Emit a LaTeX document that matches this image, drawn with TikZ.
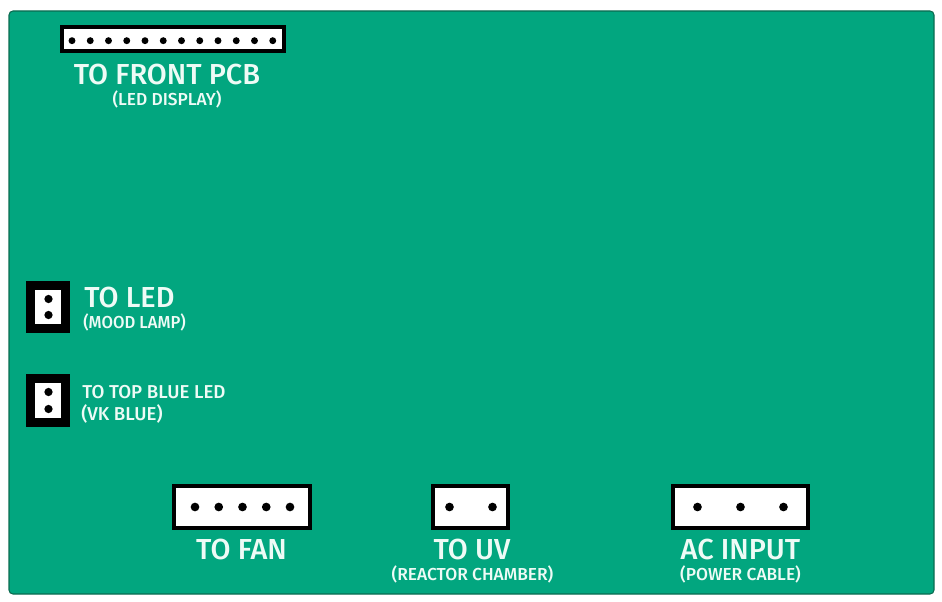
\documentclass[tikz,border=0pt]{standalone}
\usepackage{fontspec}
\setmainfont{Fira Sans Medium}
\definecolor{boardgreen}{HTML}{02A67F}
\definecolor{boardedge}{HTML}{0B6B50}
\definecolor{labelwhite}{HTML}{EEFBF6}
\tikzset{
  conn/.style={draw=black,fill=white,rectangle,line width=3pt,inner sep=0pt},
  jumper/.style={draw=black,fill=white,rectangle,line width=6.8pt,inner sep=0pt},
  pinhole/.style={fill=black,circle,inner sep=0pt,minimum size=6.5pt},
  biglabel/.style={text=labelwhite,inner sep=0pt,font=\fontsize{21.7}{25}\selectfont},
  midlabel/.style={text=labelwhite,inner sep=0pt,font=\fontsize{14}{16}\selectfont},
  smalllabel/.style={text=labelwhite,inner sep=0pt,font=\fontsize{13}{15}\selectfont},
}
\begin{document}
\begin{tikzpicture}[x=.75pt,y=-.75pt]
  \useasboundingbox (0,0) rectangle (942,602);
  \draw[draw=boardedge,fill=boardgreen,line width=.8pt,rounded corners=3pt] (9,11) rectangle (934,594);

  % top header
  \node[conn,minimum width=166pt,minimum height=18pt] (front) at (173,39.5){};
  \foreach \i in {0,...,11}
    \node[pinhole,minimum size=5.2pt] (fp\i) at ({72+\i*18.25},40.7){};
  \node[biglabel] (frontlbl) at (167,74.5){TO FRONT PCB};
  \node[smalllabel] (frontsub) at (167,99){(LED DISPLAY)};

  % left jumpers
  \node[jumper,minimum width=26.2pt,minimum height=32.5pt] (led) at (48,307){};
  \node[pinhole,minimum size=6.2pt] (led1) at (48.5,299){};
  \node[pinhole,minimum size=6.2pt] (led2) at (48.5,315){};
  \node[biglabel,anchor=west] (ledlbl) at (84,297.5){TO LED};
  \node[smalllabel,anchor=west,xscale=.96] (ledsub) at (83,322.5){(MOOD LAMP)};

  \node[jumper,minimum width=26.2pt,minimum height=33pt] (top) at (48,400.5){};
  \node[pinhole,minimum size=6.2pt] (top1) at (48.5,392){};
  \node[pinhole,minimum size=6.2pt] (top2) at (48.5,409){};
  \node[midlabel,anchor=west] (toplbl) at (82,392){TO TOP BLUE LED};
  \node[midlabel,anchor=west] (topsub) at (81,414){(VK BLUE)};

  % bottom headers
  \node[conn,minimum width=101.5pt,minimum height=31.5pt] (fan) at (242,507){};
  \foreach \i in {0,...,4}
    \node[pinhole] (fan\i) at ({195+\i*23.75},507){};
  \node[biglabel] (fanlbl) at (241.5,549.5){TO FAN};

  \node[conn,minimum width=56pt,minimum height=31.5pt] (uv) at (470.5,507){};
  \node[pinhole] (uv0) at (449.5,507){};
  \node[pinhole] (uv1) at (492.5,507){};
  \node[biglabel] (uvlbl) at (472,549.5){TO UV};
  \node[smalllabel] (uvsub) at (472.5,574.5){(REACTOR CHAMBER)};

  \node[conn,minimum width=101.5pt,minimum height=31.5pt] (ac) at (740.5,507){};
  \foreach \i in {0,...,2}
    \node[pinhole] (ac\i) at ({697.5+\i*43},507){};
  \node[biglabel] (aclbl) at (740.5,549.5){AC INPUT};
  \node[smalllabel] (acsub) at (740.5,574.5){(POWER CABLE)};
\end{tikzpicture}
\end{document}
